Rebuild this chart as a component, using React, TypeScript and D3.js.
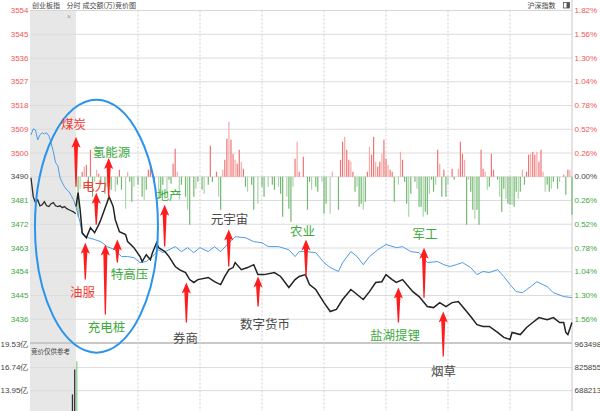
import React from 'react';
import * as d3 from 'd3';

const W = 600;
const H = 411;
const PREV_CLOSE = 3490.6;

// axis ticks (percent steps of 0.26%)
const tickPcts = [1.82, 1.56, 1.30, 1.04, 0.78, 0.52, 0.26, 0, -0.26, -0.52, -0.78, -1.04, -1.30, -1.56];
const priceLabels = ['3554', '3545', '3536', '3527', '3518', '3509', '3500', '3490', '3481', '3472', '3463', '3454', '3445', '3436'];
const pctLabels = ['1.82%', '1.56%', '1.30%', '1.04%', '0.78%', '0.52%', '0.26%', '0.00%', '0.26%', '0.52%', '0.78%', '1.04%', '1.30%', '1.56%'];
const volTicks = [19.53, 16.74, 13.95];
const volLabels = ['19.53亿', '16.74亿', '13.95亿'];
const volRightLabels = ['963498', '825855', '688213'];
const halfHourMarks = [30, 60, 90, 120, 150, 180, 210];

// auction segment (index 0..20)
const auctionIndex = [3490.2, 3483.0, 3480.7, 3481.8, 3479.5, 3479.9, 3481.1, 3479.5, 3479.2, 3480.3, 3480.7, 3479.5, 3479.2, 3479.5, 3478.8, 3479.2, 3478.4, 3478.0, 3477.6, 3477.2, 3476.5];
const auctionBlue = [3506.6, 3508.9, 3508.5, 3504.7, 3506.6, 3507.4, 3507.0, 3507.4, 3506.2, 3503.6, 3500.1, 3496.0, 3494.8, 3490.2, 3488.3, 3486.8, 3485.6, 3484.9, 3483.4, 3481.8, 3479.5];

// main session [minute, price]
const indexLine: [number, number][] = [
  [0, 3479.2], [1, 3484.5], [2, 3478.0], [3, 3469.2], [5, 3467.3], [7, 3471.1], [9, 3469.2], [11, 3472.3], [12, 3474.2], [15, 3480.7],
  [16, 3483.0], [18, 3479.2], [19, 3474.2], [21, 3469.6], [24, 3468.5], [25, 3465.8], [28, 3463.5], [31, 3460.1], [32, 3458.2], [34, 3460.8],
  [36, 3458.9], [37, 3461.6], [39, 3465.4], [40, 3463.5], [43, 3462.0], [45, 3460.1], [48, 3456.3], [50, 3455.1], [53, 3454.0], [55, 3451.3],
  [57, 3450.2], [59, 3451.3], [64, 3452.1], [67, 3450.5], [70, 3449.4], [72, 3452.5], [74, 3455.1], [76, 3455.9], [77, 3457.8], [80, 3455.1],
  [83, 3455.9], [86, 3457.0], [88, 3453.2], [91, 3453.2], [96, 3454.0], [99, 3452.5], [103, 3448.3], [106, 3451.3], [108, 3452.5], [111, 3453.2],
  [113, 3449.4], [116, 3447.5], [120, 3442.5], [123, 3439.1], [126, 3439.9], [129, 3443.7], [133, 3447.5], [136, 3445.6], [139, 3443.7], [142, 3446.7],
  [145, 3450.2], [148, 3450.5], [150, 3453.2], [153, 3451.3], [155, 3450.2], [158, 3451.3], [160, 3449.4], [163, 3446.7], [166, 3444.8], [170, 3441.0],
  [173, 3440.6], [176, 3442.5], [179, 3441.0], [182, 3442.5], [185, 3442.9], [187, 3441.0], [191, 3437.2], [194, 3434.1], [197, 3433.4], [200, 3433.4],
  [204, 3431.1], [207, 3429.2], [210, 3428.4], [211, 3431.1], [215, 3430.3], [218, 3433.0], [221, 3434.9], [224, 3436.8], [228, 3436.0], [231, 3436.8],
  [234, 3434.9], [236, 3434.9], [237, 3431.1], [238, 3430.3], [240, 3434.9],
];
const blueLine: [number, number][] = [
  [0, 3479.2], [2, 3473.1], [3, 3468.5], [6, 3467.3], [9, 3466.6], [12, 3465.8], [15, 3463.9], [19, 3462.7], [22, 3460.1], [25, 3460.1],
  [28, 3459.7], [31, 3457.8], [34, 3458.2], [37, 3460.1], [40, 3462.7], [42, 3461.6], [45, 3462.7], [48, 3463.9], [51, 3462.0], [54, 3463.5],
  [57, 3461.6], [60, 3463.5], [64, 3462.0], [67, 3463.9], [70, 3462.0], [74, 3465.4], [77, 3467.7], [82, 3467.3], [86, 3465.8], [90, 3465.4],
  [93, 3463.9], [98, 3463.9], [103, 3462.7], [106, 3460.1], [108, 3462.0], [111, 3462.0], [116, 3461.6], [120, 3457.8], [123, 3455.9], [127, 3454.4],
  [129, 3457.8], [133, 3462.0], [136, 3460.1], [139, 3457.0], [142, 3460.1], [146, 3462.7], [150, 3464.7], [155, 3463.5], [158, 3463.9], [162, 3462.0],
  [166, 3461.6], [170, 3457.8], [175, 3458.2], [178, 3457.0], [181, 3456.3], [184, 3457.0], [187, 3457.8], [191, 3455.9], [194, 3453.2], [197, 3454.4],
  [200, 3454.0], [204, 3455.1], [207, 3452.5], [210, 3449.4], [213, 3446.7], [216, 3446.3], [220, 3448.6], [223, 3450.5], [228, 3448.6], [231, 3446.3],
  [236, 3444.8], [240, 3444.4],
];

// breadth bars [minute, value]
const redBars: [number, number][] = [
  [3, 5], [4, 10], [5, 12], [7, 27], [10, 7], [11, 3], [21, 7], [25, 5], [35, 7], [36, 13], [37, 5], [47, 13], [48, 28], [49, 5],
  [65, 31], [68, 5], [71, 7], [72, 17], [73, 38], [74, 55], [75, 37], [76, 23], [77, 17], [78, 13], [79, 27], [80, 15], [81, 8],
  [106, 18], [107, 35], [108, 5], [110, 20], [124, 5], [128, 17], [129, 35], [130, 40], [131, 27], [132, 17], [133, 15], [134, 5],
  [141, 5], [142, 30], [143, 22], [144, 40], [145, 15], [146, 10], [147, 15], [148, 23], [149, 37], [150, 18], [151, 12], [152, 7], [153, 5],
  [157, 25], [158, 17], [175, 27], [176, 13], [178, 7], [182, 8], [185, 8], [186, 35], [187, 23], [188, 17], [196, 27], [197, 8], [198, 5],
  [201, 23], [202, 7], [216, 7], [218, 5], [219, 22], [220, 23], [221, 25], [222, 22], [223, 25], [224, 15], [225, 27], [226, 5],
  [236, 2], [238, 7], [239, 7],
];
const greenBars: [number, number][] = [
  [1, 40], [2, 12], [6, 13], [8, 20], [9, 5], [12, 8], [14, 17], [15, 10], [16, 5], [17, 13], [19, 15], [20, 8], [22, 13], [24, 32],
  [26, 5], [27, 25], [28, 10], [30, 8], [32, 20], [33, 23], [34, 13], [38, 5], [40, 13], [41, 20], [42, 8], [44, 17], [45, 3], [46, 7],
  [50, 23], [51, 8], [53, 20], [54, 33], [55, 48], [57, 20], [58, 12], [59, 5], [61, 13], [62, 17], [64, 8], [66, 5], [69, 20], [70, 33],
  [82, 10], [83, 15], [85, 8], [86, 33], [88, 27], [90, 10], [91, 20], [93, 10], [95, 8], [96, 13], [98, 10], [99, 17], [100, 40],
  [102, 20], [103, 32], [104, 45], [105, 10], [112, 33], [113, 5], [114, 13], [116, 10], [117, 15], [119, 5], [120, 37], [121, 27],
  [123, 37], [127, 33], [135, 15], [136, 10], [137, 30], [138, 27], [139, 33], [140, 25], [154, 25], [156, 8], [159, 5], [160, 27],
  [161, 40], [162, 17], [164, 5], [165, 12], [166, 30], [167, 30], [168, 40], [169, 35], [170, 38], [171, 17], [172, 3], [173, 15],
  [174, 8], [177, 20], [179, 20], [180, 8], [183, 3], [189, 48], [190, 3], [191, 15], [192, 33], [193, 42], [194, 33], [195, 48],
  [199, 13], [200, 10], [204, 3], [205, 20], [206, 35], [207, 12], [208, 22], [209, 27], [210, 28], [211, 28], [212, 30], [213, 15],
  [214, 22], [215, 15], [217, 8], [227, 15], [228, 8], [229, 15], [230, 12], [231, 5], [233, 12], [234, 5], [237, 18], [240, 38],
];

// volume (亿)
const auctionVolumes: [number, number][] = [[19, 13.5], [20, 16.5]];
const sessionVolumes: [number, number][] = [[0, 17.5]];

// annotations: arrow at minute, tip price, tail price; label at minute/price
const annotations = [
  { text: '煤炭', kind: 'red', m: 0, tip: 3505.9, tail: 3486.8, lm: -1.2, lp: 3510.8 },
  { text: '氢能源', kind: 'green', m: 15.8, tip: 3497.8, tail: 3482.6, lm: 17.2, lp: 3500.1 },
  { text: '电力', kind: 'red', m: 9.8, tip: 3484.5, tail: 3472.3, lm: 8.9, lp: 3487.2 },
  { text: '地产', kind: 'green', m: 42.9, tip: 3479.9, tail: 3463.9, lm: 45, lp: 3483.7 },
  { text: '油服', kind: 'red', m: 4.5, tip: 3465.4, tail: 3451.3, lm: 3.2, lp: 3446.7 },
  { text: '充电桩', kind: 'green', m: 14.2, tip: 3464.7, tail: 3438.0, lm: 14.8, lp: 3433.2 },
  { text: '特高压', kind: 'green', m: 20, tip: 3466.6, tail: 3457.8, lm: 25.9, lp: 3453.6 },
  { text: '券商', kind: 'gray', m: 53.4, tip: 3450.2, tail: 3434.9, lm: 53, lp: 3429.0 },
  { text: '元宇宙', kind: 'gray', m: 73.9, tip: 3470.4, tail: 3456.3, lm: 74.3, lp: 3474.6 },
  { text: '数字货币', kind: 'gray', m: 88.1, tip: 3452.5, tail: 3441.0, lm: 91.5, lp: 3434.7 },
  { text: '农业', kind: 'green', m: 111.3, tip: 3466.6, tail: 3452.5, lm: 109.6, lp: 3470.0 },
  { text: '军工', kind: 'green', m: 168.4, tip: 3463.5, tail: 3444.4, lm: 168.9, lp: 3468.9 },
  { text: '盐湖提锂', kind: 'green', m: 156, tip: 3448.3, tail: 3434.9, lm: 154.4, lp: 3430.3 },
  { text: '烟草', kind: 'gray', m: 177.7, tip: 3439.1, tail: 3421.9, lm: 177.8, lp: 3416.4 },
];

const textColors: Record<string, string> = { red: '#ee3b36', green: '#3daa3d', gray: '#4a4a4a' };
const NUM_FONT = '"Liberation Sans Narrow", "Liberation Sans", Arial, sans-serif';
const CJK_FONT = '"Noto Sans CJK SC", "Noto Sans", sans-serif';

function arrowPath(x: number, yt: number, yb: number) {
  const hh = 11, hw = 4.6, sw = 2.0, bw = 0.6;
  return `M${x},${yt} L${x + hw},${yt + hh} L${x + sw},${yt + hh - 1.5} L${x + bw},${yb} L${x - bw},${yb} L${x - sw},${yt + hh - 1.5} L${x - hw},${yt + hh} Z`;
}

export default function App() {
  const left = 30, right = 572, top = 10.5, mainBottom = 343;
  const y = d3.scaleLinear().domain([PREV_CLOSE * (1 - 0.0182), PREV_CLOSE * (1 + 0.0182)]).range([mainBottom, top]);
  const yPct = (p: number) => y(PREV_CLOSE * (1 + p / 100));
  const xM = d3.scaleLinear().domain([0, 240]).range([76, right]);
  const xA = d3.scaleLinear().domain([0, 20]).range([31, 75.7]);
  const y0 = y(PREV_CLOSE);
  const hBar = d3.scaleLinear().domain([0, 60]).range([0, 60]);
  const yV = d3.scaleLinear().domain([0, 19.53]).range([506, 344.5]);

  const lineM = d3.line<[number, number]>().x(d => xM(d[0])).y(d => y(d[1]));
  const lineA = d3.line<number>().x((_, i) => xA(i)).y(d => y(d));

  const labelColor = (p: number) => (p > 0 ? '#f25555' : p < 0 ? '#3ea83e' : '#444');

  return (
    <svg width={W} height={H} style={{ position: 'absolute', left: 0, top: 0, background: '#fff' }}>
      {/* auction shaded zone */}
      <rect x={left} y={top} width={xM(0) - left} height={H - top} fill="#e7e7e7" />

      {/* horizontal grid */}
      {tickPcts.map((p, i) => (
        <line key={'g' + i} x1={left} x2={right} y1={yPct(p)} y2={yPct(p)} stroke="#dcdcdc" strokeWidth={1} />
      ))}
      <line x1={left} x2={right} y1={mainBottom} y2={mainBottom} stroke="#c8c8c8" strokeWidth={2} />
      {volTicks.slice(1).map((v, i) => (
        <line key={'vg' + i} x1={left} x2={right} y1={yV(v)} y2={yV(v)} stroke="#dcdcdc" strokeWidth={1} />
      ))}
      {/* vertical dashed grid */}
      {halfHourMarks.map(m => (
        <line key={'v' + m} x1={xM(m)} x2={xM(m)} y1={top} y2={H} stroke="#cfcfcf" strokeDasharray="2,2" strokeWidth={1} />
      ))}
      <line x1={right} x2={right} y1={0} y2={H} stroke="#c8c8c8" strokeWidth={1} />
      <line x1={left} x2={right} y1={top} y2={top} stroke="#d6d6d6" strokeWidth={1} />

      {/* breadth bars */}
      {redBars.map(([m, v], i) => (
        <line key={'r' + i} x1={xM(m)} x2={xM(m)} y1={y0} y2={y0 - hBar(v)} stroke={i % 3 === 1 ? '#f7a9a9' : '#f07474'} strokeWidth={1.2} />
      ))}
      {greenBars.map(([m, v], i) => (
        <line key={'gb' + i} x1={xM(m)} x2={xM(m)} y1={y0} y2={y0 + hBar(v)} stroke={i % 3 === 1 ? '#a9d6a9' : '#72b872'} strokeWidth={1.2} />
      ))}

      {/* volume bars */}
      {auctionVolumes.map(([i, v], k) => (
        <line key={'av' + k} x1={xA(i) - 1} x2={xA(i) - 1} y1={H} y2={yV(v)} stroke="#333" strokeWidth={1.3} />
      ))}
      {sessionVolumes.map(([m, v], k) => (
        <line key={'sv' + k} x1={xM(m) + 0.8} x2={xM(m) + 0.8} y1={H} y2={yV(v)} stroke="#8fd08f" strokeWidth={1.3} />
      ))}

      {/* lines */}
      <path d={lineA(auctionBlue) || ''} fill="none" stroke="#4d9be6" strokeWidth={1} />
      <path d={lineA(auctionIndex) || ''} fill="none" stroke="#2a2a2a" strokeWidth={1.3} />
      <path d={lineM(blueLine) || ''} fill="none" stroke="#4d9be6" strokeWidth={1} />
      <path d={lineM(indexLine) || ''} fill="none" stroke="#222" strokeWidth={1.5} />

      {/* blue ellipse */}
      <ellipse cx={xM(9.9)} cy={y(3471.7)} rx={61.5} ry={126.5} fill="none" stroke="#2a93ee" strokeWidth={2} />

      {/* arrows and labels */}
      {annotations.map((a, i) => (
        <g key={'a' + i}>
          <path d={arrowPath(xM(a.m), y(a.tip), y(a.tail))} fill="#ff1c1c" />
          <text x={xM(a.lm)} y={y(a.lp)} textAnchor="middle" dominantBaseline="central" fontSize={12.5} fontFamily={CJK_FONT} fill={textColors[a.kind]}>
            {a.text}
          </text>
        </g>
      ))}

      {/* left axis labels */}
      {tickPcts.map((p, i) => (
        <text key={'l' + i} x={28.5} y={yPct(p)} textAnchor="end" dominantBaseline="central" fontSize={8} fontFamily={NUM_FONT} fill={labelColor(p)}>
          {priceLabels[i]}
        </text>
      ))}
      {/* right axis labels */}
      {tickPcts.map((p, i) => (
        <text key={'rl' + i} x={574.5} y={yPct(p)} dominantBaseline="central" fontSize={8} fontFamily={NUM_FONT} fill={labelColor(p)}>
          {pctLabels[i]}
        </text>
      ))}
      {volTicks.map((v, i) => (
        <text key={'vl' + i} x={28.5} y={yV(v)} textAnchor="end" dominantBaseline="central" fontSize={8} fontFamily={NUM_FONT} fill="#444">
          {volLabels[i]}
        </text>
      ))}
      {volTicks.map((v, i) => (
        <text key={'vr' + i} x={574.5} y={yV(v)} dominantBaseline="central" fontSize={8} fontFamily={NUM_FONT} fill="#444">
          {volRightLabels[i]}
        </text>
      ))}

      {/* header */}
      <text x={32} y={5} dominantBaseline="central" fontSize={7} fontFamily={CJK_FONT} fill="#444">创业板指</text>
      <text x={66.5} y={5} dominantBaseline="central" fontSize={7} fontFamily={CJK_FONT} fill="#444">分时</text>
      <text x={82.5} y={5} dominantBaseline="central" fontSize={7} fontFamily={CJK_FONT} fill="#444">成交额(万)</text>
      <text x={115} y={5} dominantBaseline="central" fontSize={7} fontFamily={CJK_FONT} fill="#444">竞价图</text>
      <text x={527.5} y={5} dominantBaseline="central" fontSize={7} fontFamily={CJK_FONT} fill="#444">沪深指数</text>
      <rect x={563.5} y={2.5} width={6} height={5.5} fill="none" stroke="#555" strokeWidth={0.8} />
      <rect x={566.5} y={2.5} width={3} height={5.5} fill="#555" />
      <text x={69} y={16} textAnchor="middle" dominantBaseline="central" fontSize={7} fontFamily={NUM_FONT} fill="#999">×</text>
      <text x={31} y={351} dominantBaseline="central" fontSize={6.5} fontFamily={CJK_FONT} fill="#444">竞价仅供参考</text>
    </svg>
  );
}
